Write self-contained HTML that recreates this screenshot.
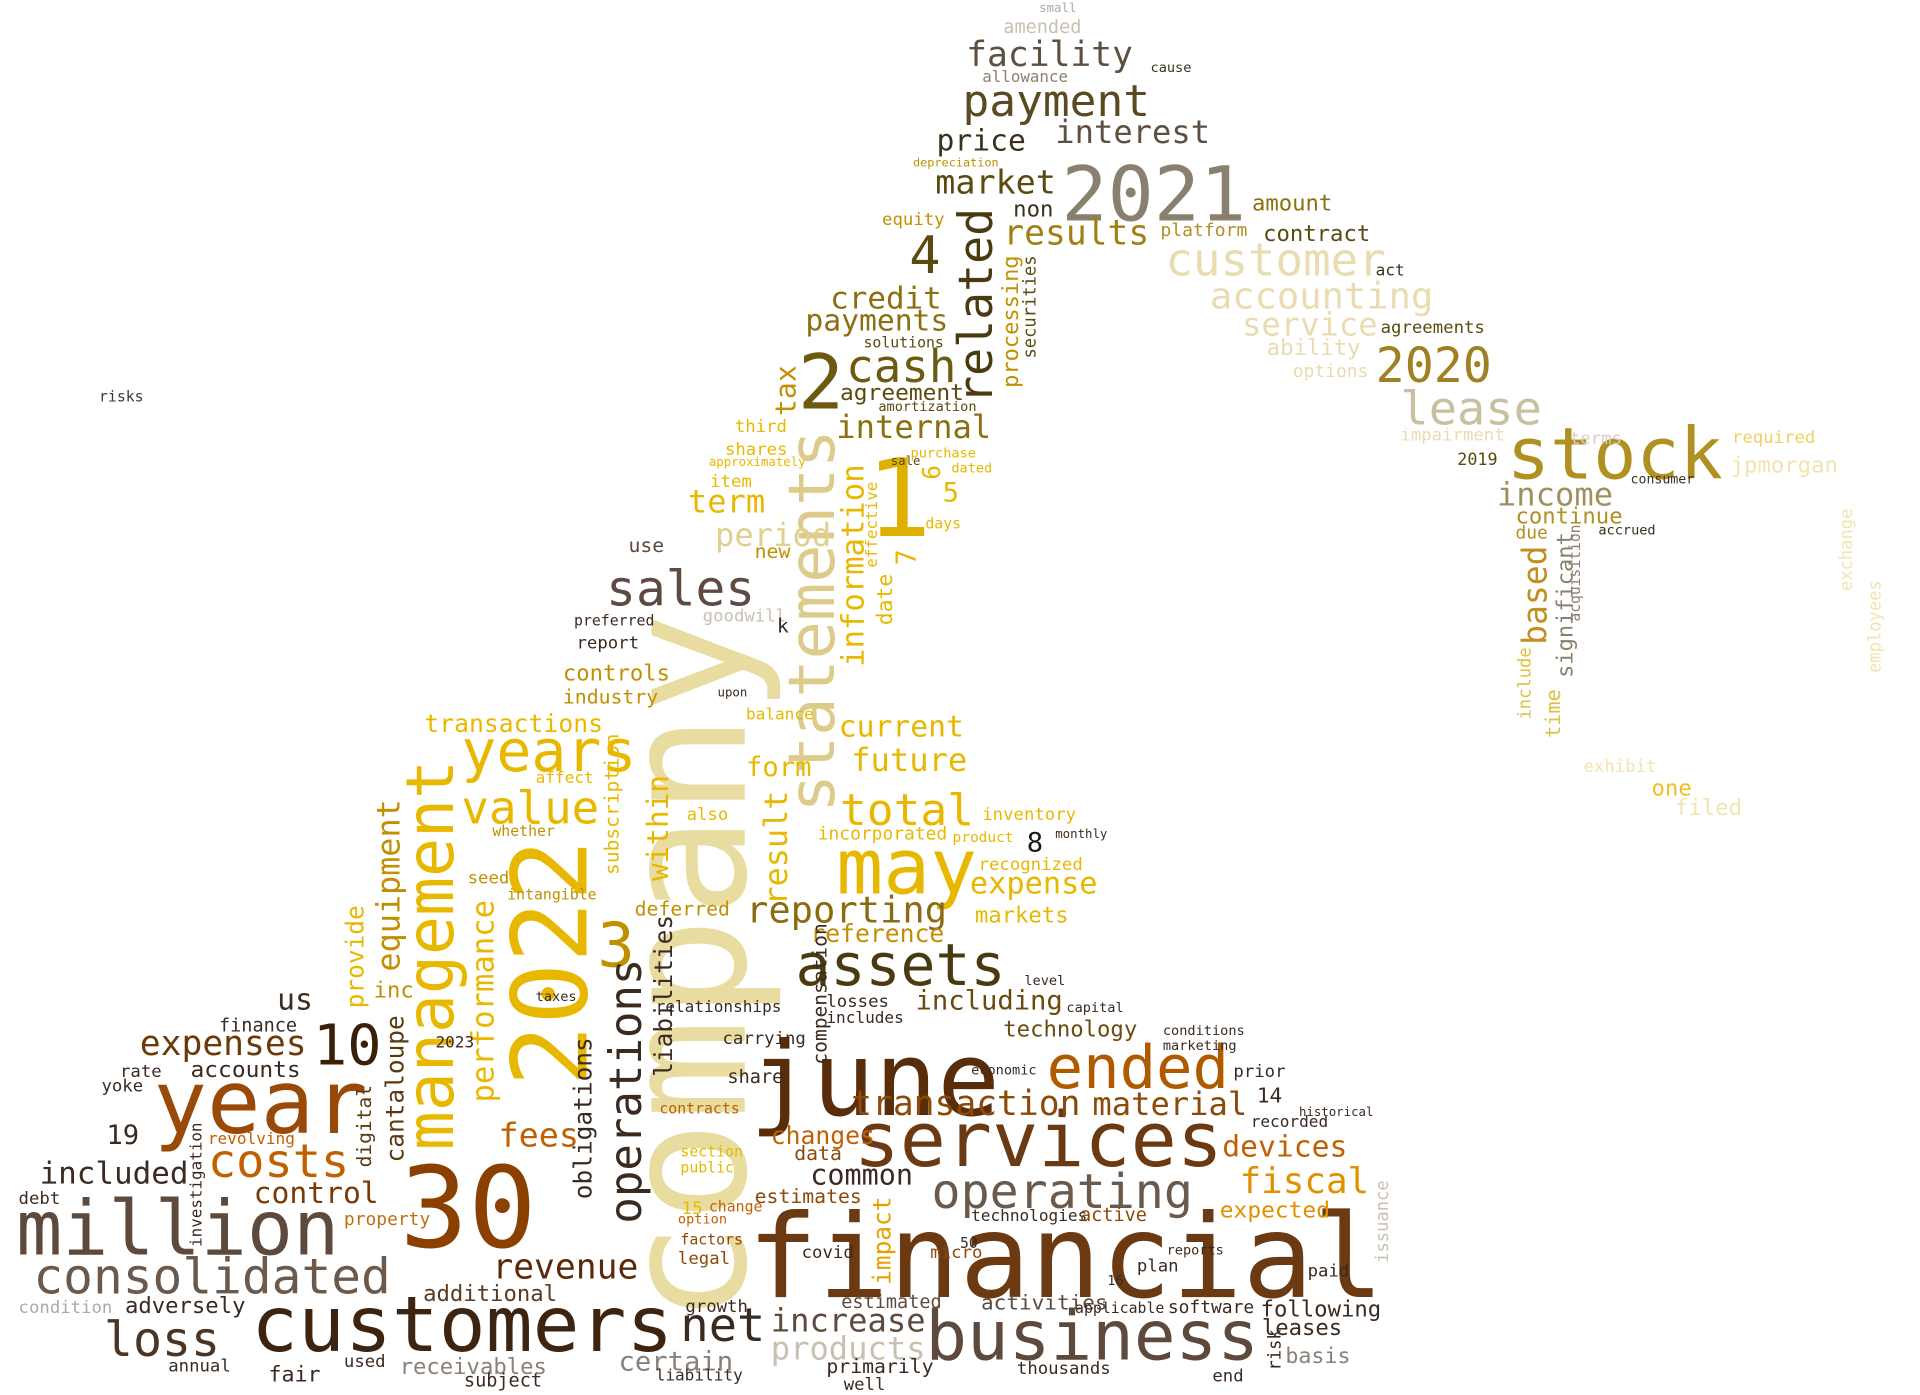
<!DOCTYPE html>
<html><head><meta charset="utf-8"><style>
html,body{margin:0;padding:0;background:#fff;width:1920px;height:1395px;overflow:hidden}
svg{display:block}
text{font-family:"DejaVu Sans Mono","Liberation Mono",monospace;}
</style></head><body>
<svg id="cloud" width="1920" height="1395" viewBox="0 0 1552 1140" preserveAspectRatio="none" xmlns="http://www.w3.org/2000/svg"></svg>
<script>
// words: text, x, y (baseline start), font size, color, vertical flag
const words = [
["financial",604,1060,95,"#6b3a12",0],
["company",602,1082,138,"#e8dca0",1],
["june",606,911,84,"#5a2d0a",0],
["customers",203,1104,63,"#3d2410",0],
["business",748,1111,56,"#5e4a3c",0],
["million",13,1025,62,"#5e4a3c",0],
["consolidated",27,1057,40,"#6b5a4c",0],
["year",124,926,72,"#9a4a08",0],
["30",323,1019,92,"#8b4000",0],
["2022",474,888,84,"#e8b800",1],
["services",690,953,62,"#6b3a12",0],
["operating",753,987,39,"#6b5a4c",0],
["ended",846,889,49,"#b05a00",0],
["assets",643,805,47,"#4a3a10",0],
["may",676,730,63,"#e8b800",0],
["total",679,674,36,"#e8b800",0],
["statements",674,664,52,"#dccb8a",1],
["sales",490,495,40,"#5e4a40",0],
["management",366,940,53,"#e8b800",1],
["years",373,630,47,"#e8b800",0],
["value",373,673,37,"#e8b800",0],
["3",483,790,50,"#c09000",0],
["2021",858,180,62,"#8a8070",0],
["payment",778,95,36,"#5a4a20",0],
["stock",1218,391,58,"#b09020",0],
["customer",942,225,37,"#e8dcb0",0],
["accounting",978,252,30,"#e8dcb0",0],
["2020",1112,312,39,"#a08020",0],
["lease",1132,347,38,"#c8c0a0",0],
["related",802,330,38,"#4a3a10",1],
["cash",684,312,37,"#6b5a10",0],
["2",645,334,62,"#6b5a10",0],
["4",735,223,42,"#5a4a10",0],
["1",700,438,88,"#e0b000",0],
["costs",168,962,38,"#c06000",0],
["expenses",113,862,28,"#6b3a08",0],
["10",253,870,46,"#3a2008",0],
["loss",84,1108,39,"#4a3525",0],
["net",550,1096,38,"#3a2a20",0],
["included",32,967,25,"#3a2a20",0],
["control",205,983,24,"#7a3a05",0],
["revenue",398,1045,28,"#5a2a08",0],
["additional",342,1063,18,"#5a3a20",0],
["operations",518,1000,36,"#3a2a20",1],
["fees",403,937,27,"#c06000",0],
["fiscal",1002,975,29,"#e09000",0],
["devices",988,945,24,"#c06000",0],
["material",883,911,26,"#8b4a08",0],
["transaction",688,911,28,"#8b4a08",0],
["including",740,825,22,"#6b4a10",0],
["reporting",603,754,30,"#8b6a10",0],
["increase",623,1088,26,"#5e4a3c",0],
["products",623,1111,26,"#c8c0b0",0],
["common",655,968,23,"#3a2a20",0],
["internal",676,358,26,"#8b7010",0],
["credit",671,252,25,"#8b7010",0],
["payments",651,270,24,"#8b7010",0],
["market",756,158,27,"#5a4a10",0],
["facility",781,54,28,"#5e5040",0],
["interest",853,117,26,"#5e5040",0],
["price",757,123,24,"#3a3020",0],
["results",811,200,28,"#a08010",0],
["income",1210,413,26,"#a09060",0],
["continue",1225,428,18,"#b09020",0],
["jpmorgan",1399,386,18,"#f0e4b0",0],
["service",1004,274,26,"#e8dcb0",0],
["ability",1024,290,18,"#e8dcb0",0],
["contract",1021,197,18,"#5a4a10",0],
["amount",1012,172,18,"#8b7010",0],
["platform",938,193,14.6,"#b09020",0],
["agreements",1116,272,14,"#5a4a10",0],
["period",578,446,26,"#e0d090",0],
["term",556,419,26,"#e8b800",0],
["future",688,630,26,"#e8b800",0],
["current",678,602,24,"#e8b800",0],
["expense",784,730,24.5,"#e8b800",0],
["markets",788,754,18,"#e8b800",0],
["technology",811,847,18,"#6b4a10",0],
["equipment",323,794,26,"#c09000",1],
["receivables",323,1123,18,"#8a8078",0],
["certain",500,1120,22,"#8a8078",0],
["based",1250,527,27,"#c09020",1],
["significant",1271,554,18,"#8a8070",1],
["tax",643,340,23,"#c09000",1],
["information",698,545,25,"#e8b800",1],
["transactions",343,598,20,"#e8b800",0],
["controls",455,556,18,"#c09000",0],
["industry",455,575,16,"#c09000",0],
["reference",655,770,20,"#c09000",0],
["form",603,634,22,"#e8b800",0],
["inventory",794,670,14,"#e8b800",0],
["incorporated",661,686,14.5,"#e8b800",0],
["deferred",513,748,16,"#c09000",0],
["us",224,825,24,"#3a2a20",0],
["finance",177,843,15,"#3a2a20",0],
["accounts",154,880,18.5,"#3a2a20",0],
["19",86,935,22,"#3a2a20",0],
["rate",97,880,14,"#3a2a20",0],
["yoke",82,892,14,"#3a2a20",0],
["debt",15,984,14,"#3a2a20",0],
["adversely",101,1073,18,"#3a2a20",0],
["condition",15,1073,14,"#aaaaaa",0],
["annual",136,1121,14,"#3a2a20",0],
["fair",217,1129,17.5,"#3a2a20",0],
["subject",375,1133,15,"#3a2a20",0],
["used",278,1117,14,"#3a2a20",0],
["property",278,1001,14.5,"#c07010",0],
["cantaloupe",326,950,20,"#5a3a10",1],
["digital",300,954,16,"#5a3a10",1],
["investigation",163,1019,13,"#3a2a20",1],
["revolving",168,935,13,"#c06000",0],
["performance",399,901,25,"#e8b800",1],
["provide",294,824,20,"#e8b800",1],
["inc",302,815,18,"#c09000",0],
["obligations",478,980,20,"#3a2a20",1],
["liabilities",543,880,20,"#3a2a20",1],
["within",540,720,24,"#e8b800",1],
["subscription",500,715,16,"#e8b800",1],
["result",636,740,26,"#e8b800",1],
["impact",720,1050,20,"#e8a000",1],
["compensation",668,870,16,"#3a2a20",1],
["changes",623,935,20,"#c06000",0],
["estimates",610,983,16,"#8b4a08",0],
["expected",986,995,18.5,"#e09000",0],
["following",1019,1076,18,"#3a2a20",0],
["leases",1020,1091,18,"#3a2a20",0],
["activities",793,1070,17,"#5e4a3c",0],
["thousands",822,1123,14,"#3a2a20",0],
["plan",919,1039,14,"#3a2a20",0],
["software",944,1073,14.5,"#3a2a20",0],
["applicable",869,1073,12,"#3a2a20",0],
["estimated",680,1069,15,"#5e4a3c",0],
["primarily",668,1122,16,"#3a2a20",0],
["relationships",530,827,13,"#3a2a20",0],
["carrying",584,853,14,"#3a2a20",0],
["share",588,885,15,"#3a2a20",0],
["recognized",791,711,14,"#e8b800",0],
["risks",80,328,12,"#3a3a3a",0],
["new",610,456,16,"#c09000",0],
["use",508,451,16,"#5e4a3c",0],
["goodwill",568,508,14,"#c8c0b0",0],
["processing",823,317,18,"#c09000",1],
["securities",837,293,14,"#5a4a10",1],
["agreement",679,327,18.5,"#5a4a10",0],
["depreciation",738,136,9.6,"#c09000",0],
["equity",713,184,14,"#c09000",0],
["allowance",794,67,12.8,"#8a8070",0],
["amended",811,27,15,"#c8c0b0",0],
["impairment",1132,360,14,"#e8dcb0",0],
["options",1045,308,14.5,"#e8dcb0",0],
["terms",1269,363,14,"#d8d0c8",0],
["required",1400,362,14,"#f0d060",0],
["exhibit",1280,631,14,"#f0e4b0",0],
["filed",1354,666,18,"#f0e4b0",0],
["one",1335,650,18,"#f0c020",0],
["employees",1520,550,14,"#f0e4b0",1],
["exchange",1497,483,14,"#f0e4b0",1],
["due",1225,440,14.5,"#b09020",0],
["acquisition",1277,508,12,"#8a8070",1],
["time",1261,603,16.5,"#e0c040",1],
["include",1237,588,14,"#e0c040",1],
["issuance",1122,1032,14,"#c8c0b0",1],
["basis",1039,1114,17.5,"#8a8078",0],
["end",980,1129,14,"#3a2a20",0],
["risk",1035,1120,14,"#3a2a20",1],
["legal",548,1033,14,"#8b4a08",0],
["factors",550,1017,12,"#8b4a08",0],
["covid",648,1028,14,"#3a2a20",0],
["micro",752,1028,14,"#8b4a08",0],
["technologies",785,998,13,"#3a2a20",0],
["active",873,998,15,"#8b4a08",0],
["growth",554,1072,14,"#3a2a20",0],
["liability",530,1128,13,"#3a2a20",0],
["well",682,1136,14,"#3a2a20",0],
["data",642,948,16,"#8b4a08",0],
["monthly",853,685,10,"#3a2a20",0],
["8",830,696,22,"#1a1a1a",0],
["5",762,410,22,"#e8b800",0],
["6",760,392,20,"#e8b800",1],
["7",740,462,22,"#e8b800",1],
["purchase",736,374,11,"#e8b800",0],
["sale",720,380,10,"#5a4a10",0],
["non",819,177,18,"#3a3020",0],
["act",1112,225,13,"#3a3020",0],
["2019",1178,380,13.5,"#5a4a10",0],
["consumer",1318,395,10.7,"#3a3020",0],
["accrued",1292,437,11,"#3a3020",0],
["cause",930,59,11,"#3a3020",0],
["small",840,10,10,"#aaaaaa",0],
["preferred",464,511,12,"#3a2a20",0],
["report",466,530,14,"#3a2a20",0],
["k",628,517,16,"#3a2a20",0],
["upon",580,569,10,"#3a2a20",0],
["balance",603,588,13,"#e8b800",0],
["also",555,670,14,"#e8b800",0],
["affect",433,640,13,"#e8b800",0],
["seed",378,722,14,"#c09000",0],
["intangible",410,735,12,"#c09000",0],
["whether",398,683,12,"#c09000",0],
["taxes",433,818,11,"#3a2a20",0],
["contracts",533,910,12,"#c06000",0],
["section",550,945,12,"#e8b800",0],
["public",550,958,12,"#e8b800",0],
["option",548,1000,11,"#c06000",0],
["change",573,990,12,"#c06000",0],
["15",551,992,14,"#e8b800",0],
["50",776,1020,12,"#3a2a20",0],
["16",895,1050,11,"#3a2a20",0],
["paid",1057,1043,14,"#3a2a20",0],
["reports",943,1025,11,"#3a2a20",0],
["prior",997,880,14,"#3a2a20",0],
["recorded",1011,921,13,"#3a2a20",0],
["14",1016,901,17,"#3a2a20",0],
["historical",1050,912,10,"#3a2a20",0],
["conditions",940,846,11,"#3a2a20",0],
["marketing",940,858,11,"#3a2a20",0],
["level",828,805,11,"#3a2a20",0],
["losses",668,823,14,"#3a2a20",0],
["includes",668,836,13,"#3a2a20",0],
["capital",862,827,11,"#3a2a20",0],
["economic",785,878,11,"#3a2a20",0],
["dated",769,386,11,"#e8b800",0],
["days",748,432,12,"#e8b800",0],
["date",721,511,17.5,"#e8b800",1],
["effective",709,464,13,"#e8b800",1],
["product",770,688,11.7,"#e8b800",0],
["amortization",710,336,11,"#5a4a10",0],
["solutions",698,284,12,"#5a4a10",0],
["shares",586,372,14,"#e8b800",0],
["third",594,353,14,"#e8b800",0],
["item",574,398,14,"#e8b800",0],
["approximately",573,381,10,"#e8b800",0],
["2023",352,856,13,"#3a2a20",0]
];
const svg = document.getElementById('cloud');
const NS = 'http://www.w3.org/2000/svg';
for (const w of words) {
  const t = document.createElementNS(NS, 'text');
  t.textContent = w[0];
  t.setAttribute('x', w[1]);
  t.setAttribute('y', w[2]);
  t.setAttribute('font-size', w[3]);
  t.setAttribute('fill', w[4]);
  if (w[5]) t.setAttribute('transform', 'rotate(-90 ' + w[1] + ' ' + w[2] + ')');
  
  
  svg.appendChild(t);
}
</script>
</body></html>
